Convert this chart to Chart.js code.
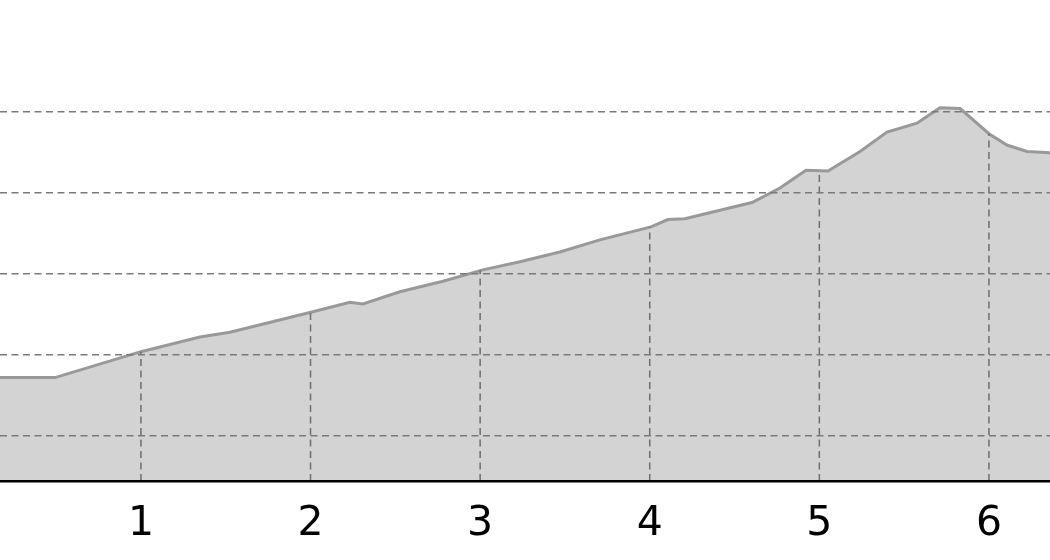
<!DOCTYPE html>
<html>
<head>
<meta charset="utf-8">
<script src="https://cdn.jsdelivr.net/npm/chart.js@4/dist/chart.umd.min.js"></script>
<style>
html,body{margin:0;padding:0;background:#fff;overflow:hidden;}
#wrap{width:1050px;height:560px;position:relative;}
</style>
</head>
<body>
<div id="wrap"><canvas id="c" width="1050" height="560"></canvas></div>
<script>
// distance along the route (km)
const distanceKm = [0.0, 0.493, 1.0, 1.348, 1.525, 2.008, 2.232, 2.309, 2.527, 2.781, 3.016, 3.235, 3.47, 3.706, 4.007, 4.107, 4.207, 4.603, 4.768, 4.921, 5.051, 5.24, 5.399, 5.576, 5.711, 5.83, 6.0, 6.106, 6.224, 6.4];
// elevation (m)
const elevation = [172, 172, 204, 222, 228, 253, 265, 263, 278, 291, 305, 315, 327, 342, 358, 367, 368, 388, 406, 428, 427, 451, 475, 486, 505, 504, 473, 459, 451, 449];
// km markers / tick labels
const kmMarkers = [1, 2, 3, 4, 5, 6];
const elevGrid = [100, 200, 300, 400, 500];

const xMin = 0.169, xMax = 6.36;
const yMin = 44.4, yMax = 638;

function elevAt(x) {
  for (let i = 0; i < distanceKm.length - 1; i++) {
    const a = distanceKm[i], b = distanceKm[i + 1];
    if (x >= a && x <= b) {
      const t = (x - a) / (b - a);
      return elevation[i] + t * (elevation[i + 1] - elevation[i]);
    }
  }
  return elevation[elevation.length - 1];
}

const profile = distanceKm.map((d, i) => ({x: d, y: elevation[i]}));

const markerSets = kmMarkers.map(k => ({
  type: 'line',
  data: [{x: k, y: yMin}, {x: k, y: elevAt(k)}],
  borderColor: '#6e6e6e',
  borderWidth: 1.5,
  borderDash: [7, 4.5],
  pointRadius: 0,
  fill: false,
  tension: 0,
  order: 0
}));

new Chart(document.getElementById('c'), {
  type: 'line',
  data: {
    datasets: [{
      data: profile,
      borderColor: '#999999',
      borderWidth: 3,
      backgroundColor: '#d3d3d3',
      fill: 'origin',
      pointRadius: 0,
      tension: 0,
      order: 10
    }, ...markerSets]
  },
  options: {
    responsive: false,
    animation: false,
    events: [],
    layout: {padding: 0},
    plugins: {legend: {display: false}, tooltip: {enabled: false}},
    scales: {
      x: {
        type: 'linear',
        min: xMin,
        max: xMax,
        afterBuildTicks: s => { s.ticks = kmMarkers.map(v => ({value: v})); },
        afterFit: s => { s.height = 79; },
        grid: {display: false, drawTicks: false},
        border: {display: true, color: '#000', width: 2.5, z: 2},
        ticks: {
          color: '#000',
          padding: 19,
          maxRotation: 0,
          autoSkip: false,
          font: {family: 'DejaVu Sans', size: 41}
        }
      },
      y: {
        type: 'linear',
        min: yMin,
        max: yMax,
        afterBuildTicks: s => { s.ticks = elevGrid.map(v => ({value: v})); },
        afterFit: s => { s.width = 0; },
        ticks: {display: false},
        grid: {color: '#7a7a7a', lineWidth: 1.5, drawTicks: false, z: 1},
        border: {display: false, dash: [7, 4.5]}
      }
    }
  }
});
</script>
</body>
</html>
